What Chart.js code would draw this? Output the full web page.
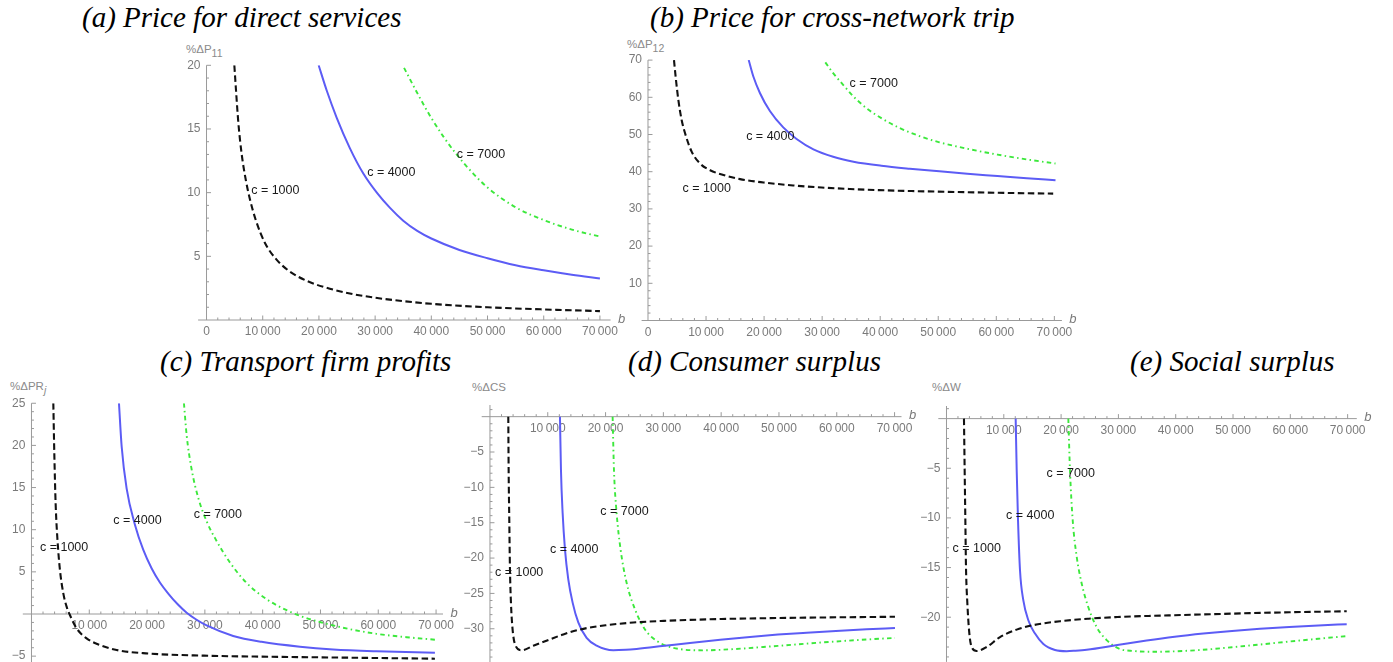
<!DOCTYPE html>
<html>
<head>
<meta charset="utf-8">
<script src="https://cdn.jsdelivr.net/npm/chart.js@4.4.1/dist/chart.umd.min.js"></script>
<style>
  html, body { margin: 0; padding: 0; background: #fff; }
  body { position: relative; width: 1393px; height: 662px; overflow: hidden; }
  canvas { position: absolute; left: 0; top: 0; }
  .title { position: absolute; font: italic 29px "Liberation Serif", "Times New Roman", serif; color: #000; white-space: nowrap; line-height: 29px; }
  .ylab { position: absolute; font: 11.5px "Liberation Sans", Arial, sans-serif; color: #8a8a8a; white-space: nowrap; line-height: 12px; }
  .ylab sub { font-size: 10.5px; vertical-align: -4px; line-height: 0; }
</style>
</head>
<body>
<div class="title" style="left:82px;top:3px">(a) Price for direct services</div>
<div class="title" style="left:650px;top:3px">(b) Price for cross-network trip</div>
<div class="title" style="left:160px;top:347px">(c) Transport firm profits</div>
<div class="title" style="left:628px;top:347px">(d) Consumer surplus</div>
<div class="title" style="left:1130px;top:347px">(e) Social surplus</div>

<div class="ylab" style="left:186px;top:43px">%ΔP<sub>11</sub></div>
<div class="ylab" style="left:627px;top:38px">%ΔP<sub>12</sub></div>
<div class="ylab" style="left:10px;top:380px">%ΔPR<sub><i>j</i></sub></div>
<div class="ylab" style="left:472px;top:381px">%ΔCS</div>
<div class="ylab" style="left:932px;top:381px">%ΔW</div>

<canvas id="pa" width="1393" height="700"></canvas>
<canvas id="pb" width="1393" height="700"></canvas>
<canvas id="pc" width="1393" height="700"></canvas>
<canvas id="pd" width="1393" height="700"></canvas>
<canvas id="pe" width="1393" height="700"></canvas>

<script>
// ---- curve values: [b, % change] ----
// (a) price for direct services
const aC1000 = [[4950,20],[5250,18],[5660,15.5],[6260,13.0],[7030,10.9],[7740,9.45],[8800,7.8],[10400,6.05],[12500,4.72],[14850,3.8],[17800,3.08],[20800,2.6],[25500,2.08],[30000,1.75],[35000,1.48],[40000,1.27],[50000,1.0],[60000,0.83],[70000,0.7]];
const aC4000 = [[19950,20],[21400,18],[23150,15.9],[25500,13.5],[27900,11.5],[30300,10.0],[32650,8.8],[35000,7.8],[37500,7.0],[40000,6.4],[45000,5.5],[50000,4.85],[55000,4.3],[60000,3.9],[65000,3.55],[70000,3.25]];
const aC7000 = [[35150,19.8],[37400,17.9],[39950,15.9],[42150,14.4],[44500,13.0],[47450,11.5],[50000,10.4],[55000,8.85],[60000,7.85],[65000,7.1],[70000,6.55]];

// (b) price for cross-network trip
const bC1000 = [[4480,70],[4820,64.7],[5230,59.3],[5800,53.9],[6550,49.5],[7520,45.4],[8960,42.2],[10700,40.4],[13000,39.1],[15850,38.0],[19900,37.1],[25000,36.3],[29900,35.75],[34800,35.35],[39700,35.05],[49700,34.65],[59800,34.35],[69800,34.1]];
const bC4000 = [[17350,70],[18150,65.6],[19300,61.1],[21000,56.3],[23300,51.9],[25600,48.8],[28500,46.0],[31900,44.0],[35400,42.7],[40200,41.6],[45100,40.8],[50200,40.1],[55000,39.45],[60200,38.85],[65250,38.25],[70200,37.7]];
const bC7000 = [[30550,69.4],[31900,66.5],[33650,63.3],[35400,60.2],[37700,57.0],[40200,54.4],[43400,51.7],[46900,49.5],[50200,47.9],[54900,46.2],[60200,44.6],[65250,43.3],[70200,42.2]];

// (c) transport firm profits
const cC1000 = [[3780,25],[3950,19.1],[4180,13.1],[4470,9.1],[4930,5.2],[5510,2.45],[6080,0.87],[6780,-0.32],[7810,-1.7],[9540,-2.89],[11850,-3.68],[14730,-4.27],[19800,-4.67],[29850,-4.94],[39800,-5.06],[49800,-5.14],[59800,-5.22],[69800,-5.3]];
const cC4000 = [[15140,25],[15600,19.9],[16460,14.9],[17900,10.6],[19350,7.6],[20800,5.4],[22250,3.7],[23700,2.4],[25300,1.15],[26850,0.15],[28500,-0.65],[30300,-1.35],[34900,-2.6],[39800,-3.3],[46450,-3.88],[52200,-4.2],[59700,-4.42],[69800,-4.6]];
const cC7000 = [[26380,25],[26850,21.2],[27700,17.2],[28850,13.8],[30300,11.0],[32000,8.7],[34350,6.1],[37200,3.7],[40700,1.75],[44150,0.45],[46800,-0.3],[49900,-0.95],[55100,-1.8],[59700,-2.35],[64900,-2.75],[69800,-3.05]];

// (d) consumer surplus
const dC1000 = [[3170,0],[3230,-7.45],[3340,-14.5],[3460,-21.6],[3630,-26.3],[3860,-29.6],[4330,-32.2],[5480,-33.05],[7500,-32.4],[10380,-31.5],[12690,-30.8],[15570,-30.1],[20070,-29.5],[24800,-29.12],[30100,-28.88],[40080,-28.62],[50050,-28.48],[60090,-28.38],[70070,-28.3]];
const dC4000 = [[12110,0],[12280,-7.45],[12570,-13.6],[12980,-18.8],[13550,-23.0],[14300,-26.3],[15280,-29.1],[16720,-31.3],[18450,-32.4],[21340,-33.05],[23500,-32.98],[25370,-32.85],[29810,-32.45],[34600,-32.0],[39850,-31.55],[44980,-31.15],[49820,-30.82],[54780,-30.55],[59860,-30.3],[65160,-30.08],[70070,-29.9]];
const dC7000 = [[21220,0],[21450,-7.45],[21910,-13.6],[22600,-18.8],[23640,-23.5],[25090,-27.25],[26820,-30.1],[28830,-31.7],[31720,-32.7],[36910,-33.05],[42100,-32.88],[49820,-32.42],[54780,-32.1],[59860,-31.8],[65160,-31.52],[70070,-31.3]];

// (e) social surplus
const eC1000 = [[3050,0],[3170,-5.2],[3290,-10.2],[3400,-14.9],[3640,-18.6],[3990,-21.65],[4390,-23.0],[5270,-23.4],[7010,-23.0],[9340,-22.0],[12250,-21.25],[15150,-20.8],[19810,-20.4],[24810,-20.15],[29810,-19.98],[39820,-19.8],[49830,-19.64],[59830,-19.5],[69840,-19.4]];
const eC4000 = [[12070,0],[12250,-5.2],[12480,-10.2],[12830,-15.3],[13410,-18.3],[14280,-20.3],[15450,-21.65],[16900,-22.7],[18940,-23.3],[20970,-23.42],[22500,-23.37],[24460,-23.27],[29810,-22.8],[34930,-22.35],[39820,-21.97],[44820,-21.65],[49830,-21.38],[54710,-21.16],[59830,-20.98],[64890,-20.83],[69840,-20.7]];
const eC7000 = [[21260,0],[21550,-5.2],[22020,-10.2],[22720,-13.9],[23590,-16.6],[24750,-19.0],[26210,-21.0],[27950,-22.3],[30280,-23.2],[32610,-23.4],[36100,-23.48],[41330,-23.4],[45500,-23.25],[49830,-23.02],[54710,-22.75],[59830,-22.45],[64890,-22.17],[69840,-21.9]];

// ---- tick labels ----
const xTicksFrom0 = [0,10000,20000,30000,40000,50000,60000,70000];
const xTicksFrom10k = [10000,20000,30000,40000,50000,60000,70000];
const aYTicks = [5,10,15,20];
const bYTicks = [10,20,30,40,50,60,70];
const cYTicks = [-5,5,10,15,20,25];
const dYTicks = [-5,-10,-15,-20,-25,-30];
const eYTicks = [-5,-10,-15,-20];

// ---- curve annotations: [b, value] where each "c = ..." tag sits ----
const curveNames = ['c = 1000', 'c = 4000', 'c = 7000'];
const aNotes = [[12240,10.2],[32880,11.57],[48840,12.96]];
const bNotes = [[10110,35.5],[21070,49.4],[38880,63.8]];
const cNotes = [[5650,7.87],[18340,11.03],[32240,11.8]];
const dNotes = [[5050,-22.1],[14570,-18.85],[23270,-13.44]];
const eNotes = [[5270,-13.06],[14620,-9.81],[21680,-5.51]];

// ---- styling ----
const AXIS_COLOR = '#9a9a9a';
const TICK_TEXT = '#7a7a7a';
const TICK_FONT = '12px "Liberation Sans", Arial, sans-serif';
const NOTE_FONT = '12.5px "Liberation Sans", Arial, sans-serif';
const AXIS_NAME_FONT = 'italic 13px "Liberation Sans", Arial, sans-serif';
const MAJOR_LEN = 4.5, MINOR_LEN = 2.5;

const seriesStyles = [
  { borderColor: '#111111', borderWidth: 2.1, borderDash: [6.5, 3.5] },
  { borderColor: 'rgb(92,92,245)', borderWidth: 2, borderDash: [] },
  { borderColor: 'rgb(60,232,60)', borderWidth: 1.9, borderDash: [4.5, 3.3, 1.5, 3.3] }
];

// panel layout: value ranges and the pixel box of each plot area
const panels = [
  { id: 'pa', series: [aC1000, aC4000, aC7000], notes: aNotes, xTicks: xTicksFrom0, yTicks: aYTicks,
    xr: [-1500, 71900], yr: [0, 20], box: { left: 198.1, right: 610.6, top: 65.3, bottom: 320 }, yStep: 1, yMajor: 5 },
  { id: 'pb', series: [bC1000, bC4000, bC7000], notes: bNotes, xTicks: xTicksFrom0, yTicks: bYTicks,
    xr: [-1100, 71300], yr: [0, 70], box: { left: 641.6, right: 1061.9, top: 60.1, bottom: 320.5 }, yStep: 2, yMajor: 10 },
  { id: 'pc', series: [cC1000, cC4000, cC7000], notes: cNotes, xTicks: xTicksFrom10k, yTicks: cYTicks,
    xr: [-1500, 71200], yr: [-5.8, 25], box: { left: 22.8, right: 443.0, top: 403.25, bottom: 662.9 }, yStep: 1, yMajor: 5 },
  { id: 'pd', series: [dC1000, dC4000, dC7000], notes: dNotes, xTicks: xTicksFrom10k, yTicks: dYTicks,
    xr: [-1430, 71200], yr: [-34.8, 1.65], box: { left: 481.7, right: 901.5, top: 405.0, bottom: 662.7 }, yStep: 1, yMajor: 5 },
  { id: 'pe', series: [eC1000, eC4000, eC7000], notes: eNotes, xTicks: xTicksFrom10k, yTicks: eYTicks,
    xr: [-1430, 71600], yr: [-24.5, 1.27], box: { left: 938.3, right: 1356.8, top: 406.0, bottom: 661.9 }, yStep: 1, yMajor: 5 }
];

function fmtTick(v) {
  const a = Math.abs(v);
  const s = String(a);
  const body = a >= 10000 ? s.slice(0, s.length - 3) + '\u2009' + s.slice(-3) : s;
  return v < 0 ? '\u2212' + body : body;
}

// Axes through the origin with inward ticks, drawn from the chart's own scales
function originAxes(p) {
  return {
    id: 'originAxes',
    beforeDatasetsDraw(chart) {
      const { ctx, chartArea: ca } = chart;
      const xs = chart.scales.x, ys = chart.scales.y;
      const X0 = xs.getPixelForValue(0), Y0 = ys.getPixelForValue(0);
      ctx.save();
      ctx.strokeStyle = AXIS_COLOR;
      ctx.lineWidth = 1;
      ctx.beginPath();
      ctx.moveTo(ca.left, Y0); ctx.lineTo(ca.right, Y0);
      ctx.moveTo(X0, ca.top); ctx.lineTo(X0, ca.bottom);
      // x ticks: major every 10000, minor every 2000
      for (let v = 2000; v <= 70000; v += 2000) {
        const px = xs.getPixelForValue(v);
        const len = v % 10000 === 0 ? MAJOR_LEN : MINOR_LEN;
        ctx.moveTo(px, Y0); ctx.lineTo(px, Y0 - len);
      }
      // y ticks
      const lo = Math.ceil(p.yr[0] / p.yStep) * p.yStep;
      for (let v = lo; v <= p.yr[1] + 1e-9; v += p.yStep) {
        if (Math.abs(v) < 1e-9) continue;
        const py = ys.getPixelForValue(v);
        const len = Math.abs(v % p.yMajor) < 1e-9 ? MAJOR_LEN : MINOR_LEN;
        ctx.moveTo(X0, py); ctx.lineTo(X0 + len, py);
      }
      ctx.stroke();

      ctx.fillStyle = TICK_TEXT;
      ctx.font = TICK_FONT;
      ctx.textBaseline = 'middle';
      ctx.textAlign = 'center';
      p.xTicks.forEach(v => ctx.fillText(fmtTick(v), xs.getPixelForValue(v), Y0 + 12));
      ctx.textAlign = 'right';
      p.yTicks.forEach(v => ctx.fillText(fmtTick(v), X0 - 6, ys.getPixelForValue(v)));

      ctx.font = AXIS_NAME_FONT;
      ctx.textAlign = 'center';
      ctx.fillText('b', ca.right + 11, Y0 - 1);
      ctx.restore();
    },
    afterDatasetsDraw(chart) {
      const { ctx } = chart;
      const xs = chart.scales.x, ys = chart.scales.y;
      ctx.save();
      ctx.fillStyle = '#1a1a1a';
      ctx.font = NOTE_FONT;
      ctx.textAlign = 'center';
      ctx.textBaseline = 'middle';
      p.notes.forEach((n, i) => ctx.fillText(curveNames[i], xs.getPixelForValue(n[0]), ys.getPixelForValue(n[1])));
      ctx.restore();
    }
  };
}

panels.forEach(p => {
  const canvas = document.getElementById(p.id);
  new Chart(canvas, {
    type: 'line',
    data: {
      datasets: p.series.map((s, i) => Object.assign({
        label: curveNames[i],
        data: s.map(d => ({ x: d[0], y: d[1] })),
        pointRadius: 0,
        fill: false,
        cubicInterpolationMode: 'monotone'
      }, seriesStyles[i]))
    },
    options: {
      responsive: false,
      animation: false,
      devicePixelRatio: 1,
      events: [],
      layout: {
        padding: {
          left: p.box.left,
          right: canvas.width - p.box.right,
          top: p.box.top,
          bottom: canvas.height - p.box.bottom
        }
      },
      scales: {
        x: { type: 'linear', display: false, min: p.xr[0], max: p.xr[1] },
        y: { type: 'linear', display: false, min: p.yr[0], max: p.yr[1] }
      },
      plugins: { legend: { display: false }, tooltip: { enabled: false } }
    },
    plugins: [originAxes(p)]
  });
});
</script>
</body>
</html>
